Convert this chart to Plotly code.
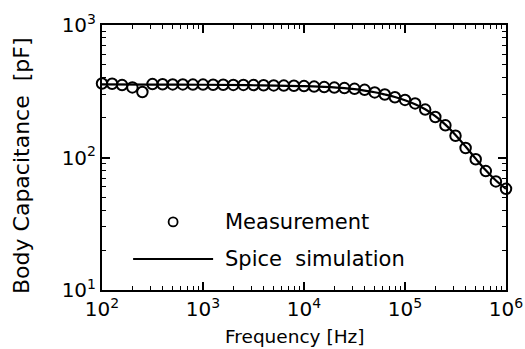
import plotly.graph_objects as go

# Measurement data (frequency in Hz, capacitance in pF)
meas_freq = [100, 126, 158, 200, 251, 316, 398, 501, 631, 794,
             1000, 1259, 1585, 1995, 2512, 3162, 3981, 5012, 6310, 7943,
             10000, 12589, 15849, 19953, 25119, 31623, 39811, 50119, 63096, 79433,
             100000, 125893, 158489, 199526, 251189, 316228, 398107, 501187, 630957, 794328,
             1000000]
meas_cap = [362, 360, 352, 338, 312, 358, 357, 356, 356, 355,
            355, 354, 354, 353, 353, 352, 351, 350, 349, 348,
            346, 343, 340, 337, 334, 330, 324, 310, 299, 285,
            272, 256, 230, 202, 175, 146, 118, 97, 79, 66,
            58]

# Spice simulation curve
sim_freq = [100, 316, 1000, 3162, 10000, 15849, 25119, 31623, 39811, 50119,
            63096, 79433, 100000, 125893, 158489, 199526, 251189, 316228,
            398107, 501187, 630957, 794328, 1000000]
sim_cap = [356, 355, 354, 351, 346, 341, 334, 328, 320, 311,
           299, 286, 270, 252, 231, 205, 177, 148, 121, 98, 80, 67, 58]

# Tick labels
x_tickvals = [100, 1000, 10000, 100000, 1000000]
x_ticktext = ["10<sup>2</sup>", "10<sup>3</sup>", "10<sup>4</sup>", "10<sup>5</sup>", "10<sup>6</sup>"]
y_tickvals = [10, 100, 1000]
y_ticktext = ["10<sup>1</sup>", "10<sup>2</sup>", "10<sup>3</sup>"]

x_title = "Frequency [Hz]"
y_title = "Body Capacitance\u00a0\u00a0[pF]"
legend_labels = ["Measurement", "Spice\u00a0\u00a0simulation"]

FONT = "DejaVu Sans"

x_minor = [m * 10 ** e for e in range(2, 6) for m in range(2, 10)]
y_minor = [m * 10 ** e for e in range(1, 3) for m in range(2, 10)]

fig = go.Figure()
fig.add_trace(go.Scatter(x=sim_freq, y=sim_cap, mode="lines",
                         line=dict(color="black", width=2.2, shape="spline"),
                         showlegend=False))
fig.add_trace(go.Scatter(x=meas_freq, y=meas_cap, mode="markers", cliponaxis=False,
                         xaxis="x2", yaxis="y2",
                         marker=dict(symbol="circle-open", size=10.5,
                                     color="black", line=dict(width=2, color="black")),
                         showlegend=False))

base = dict(type="log", showline=True, linewidth=2, linecolor="black", mirror="ticks",
            showgrid=False, zeroline=False, tickcolor="black", automargin=False)
tickfont = dict(family=FONT, size=20, color="black")

fig.update_layout(
    xaxis=dict(range=[2, 6], tickmode="array", tickvals=x_tickvals, ticktext=x_ticktext,
               ticks="inside", ticklen=8, tickwidth=1.6, tickfont=tickfont, **base),
    yaxis=dict(range=[1, 3], tickmode="array", tickvals=y_tickvals, ticktext=y_ticktext,
               ticks="inside", ticklen=8, tickwidth=1.6, tickfont=tickfont, **base),
    xaxis2=dict(range=[2, 6], overlaying="x", tickmode="array", tickvals=x_minor,
                ticks="inside", ticklen=4, tickwidth=1.3, showticklabels=False, **base),
    yaxis2=dict(range=[1, 3], overlaying="y", tickmode="array", tickvals=y_minor,
                ticks="inside", ticklen=4, tickwidth=1.3, showticklabels=False, **base),
)

# Manual legend
fig.add_shape(type="circle", xref="paper", yref="paper",
              xsizemode="pixel", ysizemode="pixel",
              xanchor=0.176, yanchor=0.257, x0=-4.5, x1=4.5, y0=-4.5, y1=4.5,
              line=dict(color="black", width=1.8))
fig.add_shape(type="line", xref="paper", yref="paper",
              x0=0.077, x1=0.275, y0=0.117, y1=0.117,
              line=dict(color="black", width=2.2))
for txt, yy in zip(legend_labels, [0.257, 0.117]):
    fig.add_annotation(text=txt, xref="paper", yref="paper", x=0.300, y=yy,
                       xanchor="left", yanchor="middle", showarrow=False,
                       font=dict(family=FONT, size=21, color="black"))

fig.add_annotation(text=x_title, xref="paper", yref="paper", x=0.478, y=-0.177,
                   xanchor="center", yanchor="middle", showarrow=False,
                   font=dict(family=FONT, size=18.5, color="black"))
fig.add_annotation(text=y_title, xref="paper", yref="paper", x=-0.198, y=0.468,
                   xanchor="center", yanchor="middle", showarrow=False, textangle=-90,
                   font=dict(family=FONT, size=22, color="black"))

fig.update_layout(width=525, height=349,
                  margin=dict(l=102, r=19, t=25, b=59),
                  paper_bgcolor="white", plot_bgcolor="white")

fig.write_html("out.html")
